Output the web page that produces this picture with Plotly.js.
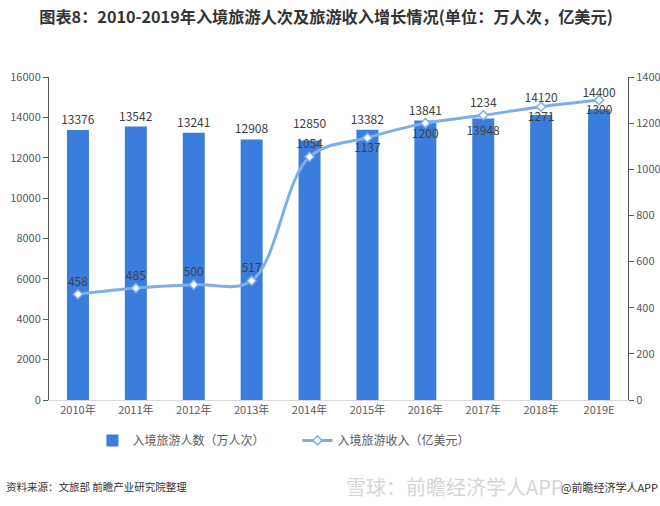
<!DOCTYPE html>
<html>
<head>
<meta charset="utf-8">
<script src="https://cdn.plot.ly/plotly-3.0.1.min.js"></script>
<style>html,body{margin:0;padding:0;background:#fff;}#chart{width:660px;height:506px;}</style>
</head>
<body>
<div id="chart"></div>
<script>
const years = ['2010年','2011年','2012年','2013年','2014年','2015年','2016年','2017年','2018年','2019E'];
const visitors = [13376, 13542, 13241, 12908, 12850, 13382, 13841, 13948, 14120, 14400];
const revenue = [458, 485, 500, 517, 1054, 1137, 1200, 1234, 1271, 1300];
const barLabelPos = ['outside','outside','outside','outside','none','outside','outside','inside','none','none'];
const raisedBarLabel = [false,false,false,false,true,false,false,false,true,true];
const lineLabelPos = ['top center','top center','top center','top center','top center','bottom center','bottom center','top center','bottom center','bottom center'];

const FONT = '"Noto Sans CJK SC", "Noto Sans", sans-serif';
const labelFont = {family: FONT, size: 12, color: '#404040'};

const traces = [
  {
    type: 'bar', x: years, y: visitors, name: '入境旅游人数（万人次）',
    marker: {color: '#3b7ddd'}, width: 0.38,
    text: visitors.map(String), textposition: barLabelPos, insidetextanchor: 'end',
    textangle: 0, constraintext: 'none', cliponaxis: false,
    textfont: labelFont, insidetextfont: labelFont, outsidetextfont: labelFont,
    hoverinfo: 'skip'
  },
  {
    type: 'scatter', mode: 'markers+text', x: years, y: visitors, showlegend: false,
    marker: {size: 14, color: 'rgba(0,0,0,0)'},
    text: visitors.map((v, i) => raisedBarLabel[i] ? String(v) : ''),
    textposition: 'top center', textfont: labelFont, cliponaxis: false, hoverinfo: 'skip'
  },
  {
    type: 'scatter', mode: 'lines+markers+text', x: years, y: revenue, yaxis: 'y2',
    name: '入境旅游收入（亿美元）',
    line: {color: '#7eaee8', width: 3, shape: 'spline', smoothing: 1},
    marker: {symbol: 'diamond', size: 7, color: '#ffffff', line: {color: '#7eaee8', width: 1.5}},
    text: revenue.map(String), textposition: lineLabelPos, textfont: labelFont,
    cliponaxis: false, hoverinfo: 'skip'
  }
];

const layout = {
  width: 660, height: 506,
  margin: {l: 49, r: 32, t: 77, b: 106},
  paper_bgcolor: '#ffffff', plot_bgcolor: '#ffffff',
  font: {family: FONT, color: '#595959', size: 11},
  title: {
    text: '<b>图表8：2010-2019年入境旅游人次及旅游收入增长情况(单位：万人次，亿美元)</b>',
    font: {family: FONT, size: 16.2, color: '#333333'},
    x: 0.494, xanchor: 'center', xref: 'container', y: 0.965, yanchor: 'middle'
  },
  xaxis: {
    type: 'category', range: [-0.5, 9.5], showgrid: false, zeroline: false,
    showline: true, linecolor: '#d9d9d9', linewidth: 1,
    ticks: '', tickfont: {family: FONT, size: 11, color: '#595959'},
    fixedrange: true
  },
  yaxis: {
    range: [0, 16000], dtick: 2000, tickformat: 'd', showgrid: false, zeroline: false,
    showline: true, linecolor: '#595959', linewidth: 1,
    ticks: 'outside', ticklen: 5, tickcolor: '#595959',
    tickfont: {family: FONT, size: 11, color: '#595959'}, fixedrange: true
  },
  yaxis2: {
    range: [0, 1400], dtick: 200, tickformat: 'd', overlaying: 'y', side: 'right',
    showgrid: false, zeroline: false,
    showline: true, linecolor: '#595959', linewidth: 1,
    ticks: 'outside', ticklen: 5, tickcolor: '#595959',
    tickfont: {family: FONT, size: 11, color: '#595959'}, fixedrange: true
  },
  showlegend: true,
  legend: {
    orientation: 'h', x: 0.075, xanchor: 'left', y: -0.125, yanchor: 'middle',
    font: {family: FONT, size: 12, color: '#595959'},
    itemwidth: 30, tracegroupgap: 0, entrywidth: 160, entrywidthmode: 'pixels'
  },
  annotations: [
    {text: '资料来源：文旅部 前瞻产业研究院整理', xref: 'paper', yref: 'paper',
     x: -0.077, xanchor: 'left', y: -0.268, yanchor: 'middle', showarrow: false,
     font: {family: FONT, size: 10.5, color: '#333333'}},
    {text: '雪球：前瞻经济学人APP', xref: 'paper', yref: 'paper',
     x: 0.51, xanchor: 'left', y: -0.268, yanchor: 'middle', showarrow: false,
     font: {family: FONT, size: 20, color: '#d6d6d6'}},
    {text: '@前瞻经济学人APP', xref: 'paper', yref: 'paper',
     x: 1.055, xanchor: 'right', y: -0.268, yanchor: 'middle', showarrow: false,
     font: {family: FONT, size: 11, color: '#333333'}}
  ]
};

Plotly.newPlot('chart', traces, layout, {displayModeBar: false, staticPlot: true});
</script>
</body>
</html>
